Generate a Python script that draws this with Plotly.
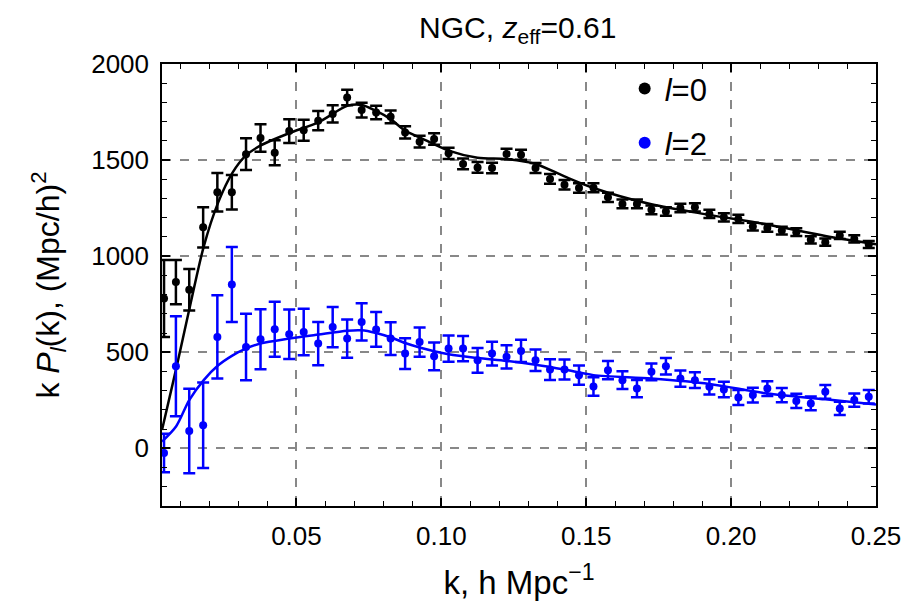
import plotly.graph_objects as go

# measured multipoles (NGC, z_eff = 0.61)
k_data = [0.0043, 0.0084, 0.0130, 0.0178, 0.0227, 0.0277, 0.0326, 0.0376, 0.0425, 0.0475,
          0.0525, 0.0575, 0.0625, 0.0675, 0.0725, 0.0775, 0.0825, 0.0875, 0.0925, 0.0975,
          0.1025, 0.1075, 0.1125, 0.1175, 0.1225, 0.1275, 0.1325, 0.1375, 0.1425, 0.1475,
          0.1525, 0.1575, 0.1625, 0.1675, 0.1725, 0.1775, 0.1825, 0.1875, 0.1925, 0.1975,
          0.2025, 0.2075, 0.2125, 0.2175, 0.2225, 0.2275, 0.2325, 0.2375, 0.2425, 0.2475]

kP0 = [780, 865, 825, 1150, 1333, 1333, 1531, 1615, 1538, 1651,
       1655, 1705, 1740, 1826, 1760, 1748, 1725, 1644, 1596, 1610,
       1535, 1480, 1462, 1459, 1532, 1528, 1459, 1402, 1372, 1355,
       1356, 1306, 1272, 1272, 1241, 1232, 1251, 1254, 1220, 1202,
       1194, 1154, 1147, 1133, 1125, 1085, 1073, 1108, 1090, 1061]
err0 = [200, 115, 108, 105, 100, 90, 82, 72, 65, 62,
        55, 50, 45, 40, 38, 35, 33, 32, 30, 30,
        29, 28, 28, 27, 27, 26, 26, 25, 25, 25,
        24, 24, 23, 23, 23, 22, 22, 22, 21, 21,
        21, 20, 20, 20, 20, 19, 19, 19, 19, 18]

kP2 = [-24, 427, 90, 120, 580, 853, 528, 568, 620, 594,
       606, 545, 631, 571, 658, 619, 571, 493, 553, 479,
       519, 519, 458, 493, 476, 507, 458, 410, 410, 381,
       322, 407, 355, 311, 398, 427, 363, 355, 320, 306,
       264, 277, 311, 277, 247, 234, 294, 208, 251, 268]
err2 = [100, 260, 220, 222, 217, 195, 173, 156, 143, 129,
        121, 113, 105, 100, 97, 90, 85, 80, 76, 72,
        68, 66, 64, 62, 60, 58, 56, 54, 52, 50,
        48, 47, 46, 45, 44, 43, 42, 41, 40, 40,
        39, 38, 38, 37, 37, 36, 36, 35, 35, 35]

# best-fit model curves
k_model = [0.0036, 0.0085, 0.013, 0.018, 0.023, 0.028, 0.0325, 0.0375, 0.0475, 0.0575,
           0.0675, 0.0725, 0.0775, 0.0825, 0.0875, 0.0925, 0.1025, 0.1125, 0.1225, 0.1325,
           0.1425, 0.1525, 0.1725, 0.1925, 0.2125, 0.2325, 0.25]
model0 = [95, 415, 722, 1050, 1280, 1436, 1523, 1575, 1640, 1696,
          1782, 1787, 1756, 1713, 1653, 1618, 1549, 1512, 1505, 1480,
          1415, 1355, 1270, 1215, 1165, 1105, 1062]
model2 = [35, 115, 251, 355, 432, 484, 519, 545, 571, 592,
          612, 614, 600, 578, 548, 525, 490, 470, 455, 435,
          410, 381, 363, 335, 285, 255, 228]

BLUE = "#0000ff"
FONT = "Liberation Sans, Arial, sans-serif"

fig = go.Figure()

fig.add_trace(go.Scatter(x=k_model, y=model0, mode="lines",
                         line=dict(color="black", width=2.5, shape="spline", smoothing=0.8),
                         showlegend=False, hoverinfo="skip"))
fig.add_trace(go.Scatter(x=k_model, y=model2, mode="lines",
                         line=dict(color=BLUE, width=2.5, shape="spline", smoothing=0.8),
                         showlegend=False, hoverinfo="skip"))

fig.add_trace(go.Scatter(
    x=k_data, y=kP0, mode="markers", name="<i>l</i>=0", legendgroup="l0",
    marker=dict(color="black", size=8),
    error_y=dict(type="data", array=err0, color="black", thickness=2.5, width=6),
))
fig.add_trace(go.Scatter(
    x=k_data, y=kP2, mode="markers", name="<i>l</i>=2", legendgroup="l2",
    marker=dict(color=BLUE, size=8),
    error_y=dict(type="data", array=err2, color=BLUE, thickness=2.5, width=6),
))

axis_common = dict(
    showline=True, linecolor="black", linewidth=1.5, mirror="allticks",
    ticks="inside", tickcolor="black", tickwidth=1.5, ticklen=8,
    showgrid=True, gridcolor="#888888", griddash="dash", gridwidth=1.5,
    zeroline=False, tickfont=dict(size=26, color="black"),
)

fig.update_xaxes(
    range=[0.0036, 0.25], tickvals=[0.05, 0.10, 0.15, 0.20, 0.25],
    ticktext=["0.05", "0.10", "0.15", "0.20", "0.25"],
    minor=dict(ticks="inside", dtick=0.01, tick0=0, ticklen=5, tickwidth=1.2, tickcolor="black", showgrid=False),
    title=dict(text="k, h Mpc<sup>−1</sup>", font=dict(size=33, color="black"), standoff=21),
    ticklabelstandoff=6,
    **axis_common,
)
fig.update_yaxes(
    range=[-300, 2000], tickvals=[0, 500, 1000, 1500, 2000],
    minor=dict(ticks="inside", dtick=100, tick0=0, ticklen=5, tickwidth=1.2, tickcolor="black", showgrid=False),
    title=dict(text="k <i>P</i><sub><i>l</i></sub>(k), (Mpc/h)<sup>2</sup>", font=dict(size=32, color="black"),
               standoff=22),
    ticklabelstandoff=6,
    **axis_common,
)

# page body adds an 8px offset, so the figure is sized to fit the window
fig.update_layout(
    width=907, height=601,
    margin=dict(l=154, r=39, t=56, b=103),
    paper_bgcolor="white", plot_bgcolor="white",
    font=dict(family=FONT, size=26, color="black"),
    title=dict(text="NGC, <i>z</i><sub>eff</sub>=0.61", x=0.562, xanchor="center",
               yref="container", y=0.968, yanchor="middle",
               font=dict(size=30, color="black")),
    legend=dict(x=0.648, y=1.005, xanchor="left", yanchor="top", bgcolor="rgba(0,0,0,0)",
                font=dict(size=31), tracegroupgap=11, itemsizing="constant"),
)

fig.write_html("out.html")
